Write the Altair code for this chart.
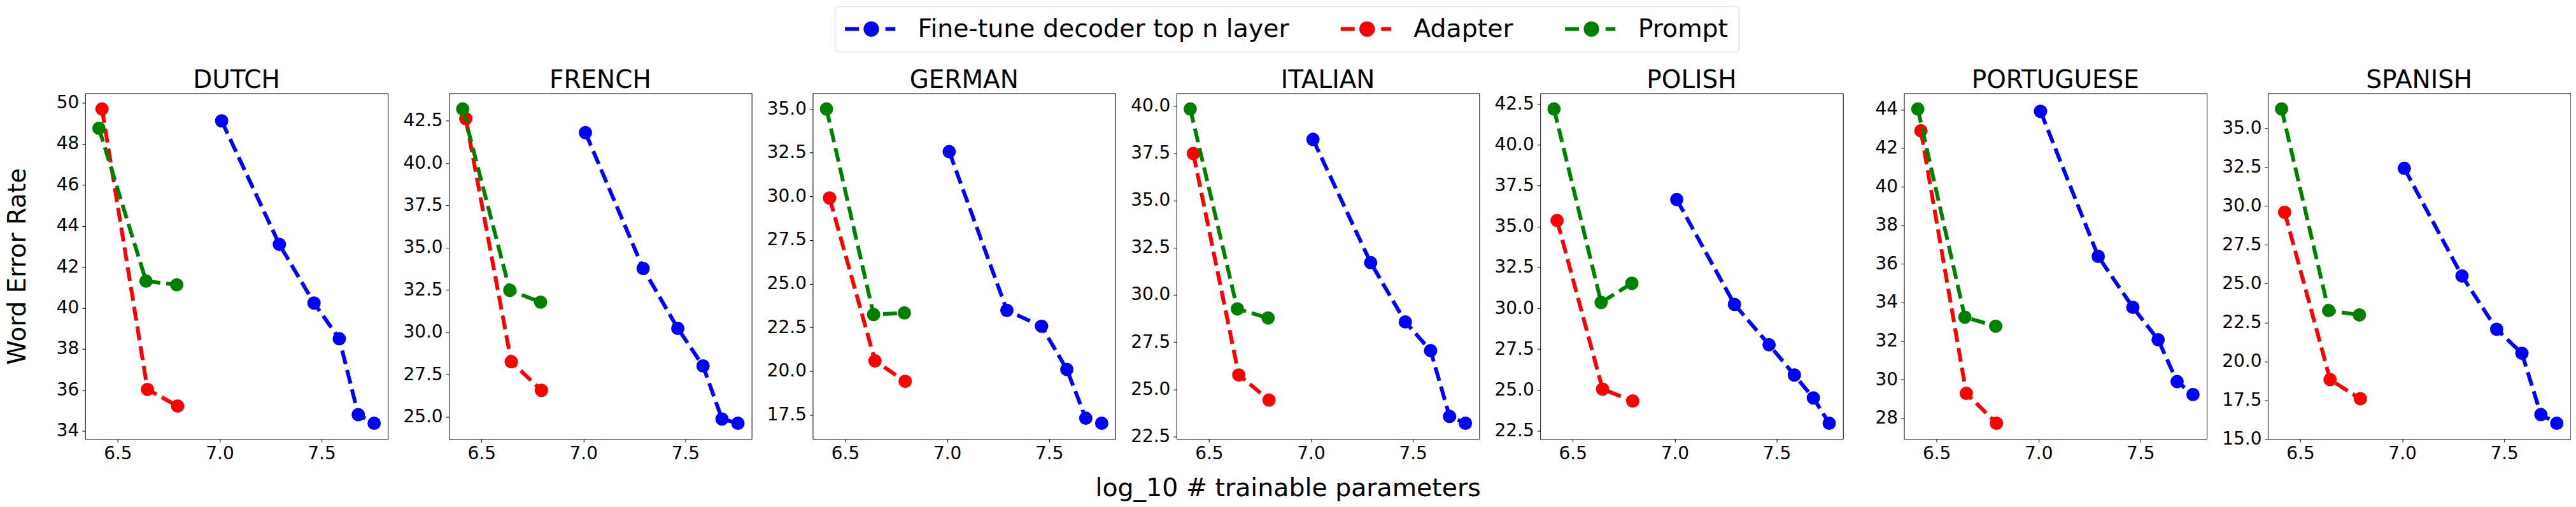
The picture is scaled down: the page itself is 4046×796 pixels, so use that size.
import altair as alt
import pandas as pd

LANGUAGES = ["DUTCH", "FRENCH", "GERMAN", "ITALIAN", "POLISH", "PORTUGUESE", "SPANISH"]
METHODS = ["Fine-tune decoder top n layer", "Adapter", "Prompt"]
COLORS = ["#0000ff", "#ff0000", "#008000"]

# log10 of the number of trainable parameters (same for every language)
X_FINETUNE = [7.010, 7.293, 7.463, 7.587, 7.680, 7.758]
X_ADAPTER = [6.423, 6.646, 6.794]
X_PROMPT = [6.408, 6.639, 6.790]
X_TICKS = [6.5, 7.0, 7.5]

# Word error rates
DUTCH_FINETUNE = [49.12, 43.10, 40.24, 38.50, 34.80, 34.38]
DUTCH_ADAPTER = [49.70, 36.03, 35.22]
DUTCH_PROMPT = [48.76, 41.31, 41.13]

FRENCH_FINETUNE = [41.80, 33.77, 30.23, 28.01, 24.87, 24.62]
FRENCH_ADAPTER = [42.63, 28.26, 26.57]
FRENCH_PROMPT = [43.20, 32.48, 31.78]

GERMAN_FINETUNE = [32.56, 23.48, 22.57, 20.10, 17.31, 17.02]
GERMAN_ADAPTER = [29.91, 20.59, 19.42]
GERMAN_PROMPT = [35.00, 23.24, 23.33]

ITALIAN_FINETUNE = [38.24, 31.71, 28.57, 27.05, 23.56, 23.20]
ITALIAN_ADAPTER = [37.49, 25.76, 24.43]
ITALIAN_PROMPT = [39.85, 29.26, 28.78]

POLISH_FINETUNE = [36.65, 30.24, 27.77, 25.92, 24.52, 22.97]
POLISH_ADAPTER = [35.37, 25.06, 24.33]
POLISH_PROMPT = [42.19, 30.36, 31.53]

PORTUGUESE_FINETUNE = [43.91, 36.39, 33.75, 32.07, 29.90, 29.23]
PORTUGUESE_ADAPTER = [42.90, 29.29, 27.74]
PORTUGUESE_PROMPT = [44.03, 33.24, 32.77]

SPANISH_FINETUNE = [32.42, 25.50, 22.07, 20.52, 16.58, 16.02]
SPANISH_ADAPTER = [29.60, 18.83, 17.60]
SPANISH_PROMPT = [36.24, 23.27, 22.99]

# y tick labels per panel
DUTCH_TICKS = [34, 36, 38, 40, 42, 44, 46, 48, 50]
FRENCH_TICKS = [25.0, 27.5, 30.0, 32.5, 35.0, 37.5, 40.0, 42.5]
GERMAN_TICKS = [17.5, 20.0, 22.5, 25.0, 27.5, 30.0, 32.5, 35.0]
ITALIAN_TICKS = [22.5, 25.0, 27.5, 30.0, 32.5, 35.0, 37.5, 40.0]
POLISH_TICKS = [22.5, 25.0, 27.5, 30.0, 32.5, 35.0, 37.5, 40.0, 42.5]
PORTUGUESE_TICKS = [28, 30, 32, 34, 36, 38, 40, 42, 44]
SPANISH_TICKS = [15.0, 17.5, 20.0, 22.5, 25.0, 27.5, 30.0, 32.5, 35.0]

PANELS = [
    ("DUTCH", DUTCH_FINETUNE, DUTCH_ADAPTER, DUTCH_PROMPT, DUTCH_TICKS, "d"),
    ("FRENCH", FRENCH_FINETUNE, FRENCH_ADAPTER, FRENCH_PROMPT, FRENCH_TICKS, ".1f"),
    ("GERMAN", GERMAN_FINETUNE, GERMAN_ADAPTER, GERMAN_PROMPT, GERMAN_TICKS, ".1f"),
    ("ITALIAN", ITALIAN_FINETUNE, ITALIAN_ADAPTER, ITALIAN_PROMPT, ITALIAN_TICKS, ".1f"),
    ("POLISH", POLISH_FINETUNE, POLISH_ADAPTER, POLISH_PROMPT, POLISH_TICKS, ".1f"),
    ("PORTUGUESE", PORTUGUESE_FINETUNE, PORTUGUESE_ADAPTER, PORTUGUESE_PROMPT, PORTUGUESE_TICKS, "d"),
    ("SPANISH", SPANISH_FINETUNE, SPANISH_ADAPTER, SPANISH_PROMPT, SPANISH_TICKS, ".1f"),
]

FONT = "DejaVu Sans"
PLOT_W, PLOT_H = 476.3, 543.7

# legend handle: dash - marker - dash
SYMBOL = ("M-2.075,-0.15H-0.975V0.15H-2.075Z"
          "M1.11,-0.15H1.89V0.15H1.11Z"
          "M-0.61,0A0.61,0.61 0 1,0 0.61,0A0.61,0.61 0 1,0 -0.61,0Z")

LEGEND = alt.Legend(
    title=None, orient="none", legendX=1179.4, legendY=-137.3, direction="horizontal",
    symbolType=SYMBOL, symbolSize=1600, symbolStrokeWidth=0, symbolOffset=21.5,
    symbolOpacity=1, labelOffset=53.2, labelFont=FONT, labelFontSize=39.5,
    labelColor="black", labelLimit=2000, columnPadding=81, padding=16,
    strokeColor="#cccccc", fillColor="white", cornerRadius=6,
)

all_x = X_FINETUNE + X_ADAPTER + X_PROMPT
xpad = 0.05 * (max(all_x) - min(all_x))
X_DOMAIN = [min(all_x) - xpad, max(all_x) + xpad]


def build_panel(idx, name, ft, ad, pr, ticks, fmt):
    vals = ft + ad + pr
    ypad = 0.05 * (max(vals) - min(vals))
    y_domain = [min(vals) - ypad, max(vals) + ypad]
    first = idx == 0
    x_enc = alt.X("x:Q", scale=alt.Scale(domain=X_DOMAIN, nice=False, zero=False),
                  axis=alt.Axis(values=X_TICKS, format=".1f", title=None, labelPadding=4.3))
    y_axis = alt.Axis(values=ticks, format=fmt, title="Word Error Rate" if first else None,
                      titlePadding=40.5, labelPadding=5)
    y_enc = alt.Y("wer:Q", scale=alt.Scale(domain=y_domain, nice=False, zero=False), axis=y_axis)
    color_scale = alt.Scale(domain=METHODS, range=COLORS)
    layers = []
    for m, col, xs, ys in zip(METHODS, COLORS, [X_FINETUNE, X_ADAPTER, X_PROMPT], [ft, ad, pr]):
        df = pd.DataFrame({"x": xs, "wer": ys, "method": m, "order": list(range(len(xs)))})
        line = alt.Chart(df).mark_line(color=col, strokeDash=[22, 9.5], strokeWidth=6,
                                       strokeCap="butt").encode(x=x_enc, y=y_enc, order="order:Q")
        pts = alt.Chart(df).mark_circle(size=441, opacity=1).encode(
            x=x_enc, y=y_enc, color=alt.Color("method:N", scale=color_scale, legend=LEGEND))
        layers += [line, pts]
    return alt.layer(*layers).properties(
        width=PLOT_W, height=PLOT_H,
        title=alt.TitleParams(text=name, font=FONT, fontSize=39, fontWeight="normal", color="black",
                              anchor="middle", frame="group", offset=0),
    )


panels = [build_panel(i, *p) for i, p in enumerate(PANELS)]

chart = alt.hconcat(
    *panels, spacing=95.35, bounds="flush",
    title=alt.TitleParams(text="log_10 # trainable parameters", orient="bottom", anchor="middle",
                          frame="bounds", baseline="alphabetic", offset=52, font=FONT,
                          fontSize=39.5, fontWeight="normal", color="black"),
).resolve_scale(color="shared").resolve_legend(color="shared").properties(
    padding=0, background="white"
).configure_view(
    stroke="black", strokeWidth=1
).configure_axis(
    domain=False, grid=False, ticks=True, tickColor="black", tickSize=5, tickWidth=1,
    labelFont=FONT, labelFontSize=28, labelColor="black", labelFlush=False, labelOverlap=False,
    titleFont=FONT, titleFontSize=39, titleFontWeight="normal", titleColor="black",
)

chart.save("out.html", embed_options={"renderer": "svg", "actions": False})
